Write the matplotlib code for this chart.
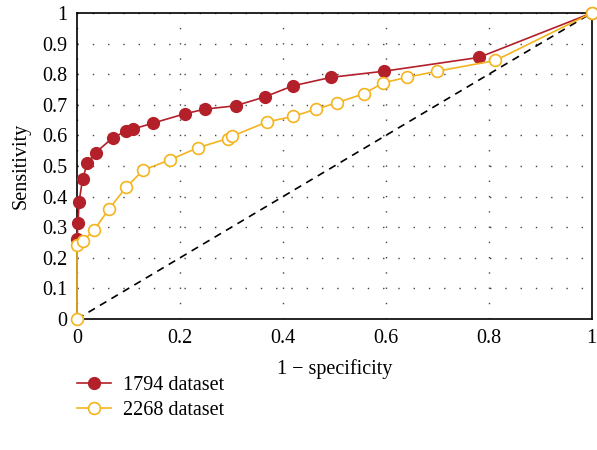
import matplotlib
matplotlib.use("Agg")
import matplotlib.pyplot as plt
import numpy as np

# ROC points
fpr_1794 = [0.0, 0.002, 0.004, 0.011, 0.02, 0.036, 0.07, 0.095, 0.109, 0.147,
            0.21, 0.249, 0.308, 0.365, 0.419, 0.494, 0.597, 0.781, 1.0]
tpr_1794 = [0.261, 0.313, 0.383, 0.459, 0.509, 0.544, 0.593, 0.614, 0.621, 0.64,
            0.671, 0.686, 0.697, 0.726, 0.762, 0.79, 0.81, 0.855, 1.0]

fpr_2268 = [0.0, 0.0, 0.012, 0.033, 0.062, 0.095, 0.129, 0.18, 0.235, 0.293,
            0.302, 0.369, 0.419, 0.465, 0.505, 0.557, 0.595, 0.641, 0.70, 0.813, 1.0]
tpr_2268 = [0.0, 0.242, 0.256, 0.291, 0.359, 0.43, 0.487, 0.52, 0.56, 0.59,
            0.598, 0.644, 0.662, 0.686, 0.707, 0.736, 0.772, 0.79, 0.81, 0.845, 1.0]

labels = ["1794 dataset", "2268 dataset"]

plt.rcParams['font.family'] = ['Liberation Serif', 'DejaVu Serif']
fs = 14.5

red = "#B3202A"
yellow = "#F4B41E"

fig = plt.figure(figsize=(5.97, 4.5), dpi=100)
ax = fig.add_axes([0.129, 0.291, 0.862, 0.68])

ax.plot([0, 1], [0, 1], color="black", linestyle=(0, (4.5, 3.5)), linewidth=1.2, zorder=2)
ax.plot(fpr_1794, tpr_1794, color=red, marker="o", markersize=8.5, linewidth=1.2,
        markerfacecolor=red, markeredgecolor=red, label=labels[0], zorder=3,
        clip_on=False)
ax.plot(fpr_2268, tpr_2268, color=yellow, marker="o", markersize=8.5, linewidth=1.2,
        markerfacecolor="white", markeredgecolor=yellow, markeredgewidth=1.2,
        label=labels[1], zorder=4, clip_on=False)

ax.set_xlim(0, 1)
ax.set_ylim(0, 1)
ax.set_xticks(np.arange(0, 1.01, 0.2))
ax.set_yticks(np.arange(0, 1.01, 0.1))
ax.set_xticklabels(["0", "0.2", "0.4", "0.6", "0.8", "1"])
ax.set_yticklabels(["0", "0.1", "0.2", "0.3", "0.4", "0.5", "0.6", "0.7", "0.8", "0.9", "1"])
ax.tick_params(length=0, pad=7, labelsize=fs)
ax.grid(True, color="#444444", linestyle=(0, (1, 10)), linewidth=1.0)
for s in ax.spines.values():
    s.set_linewidth(1.2)

ax.set_xlabel("1 \u2212 specificity", fontsize=fs, labelpad=8)
ax.set_ylabel("Sensitivity", fontsize=fs, labelpad=8)

fig.legend(loc="upper left", bbox_to_anchor=(0.115, 0.182), frameon=False,
           fontsize=fs, handlelength=1.7, handletextpad=0.6, labelspacing=0.3,
           borderaxespad=0)

fig.savefig("out.png", dpi=100)
